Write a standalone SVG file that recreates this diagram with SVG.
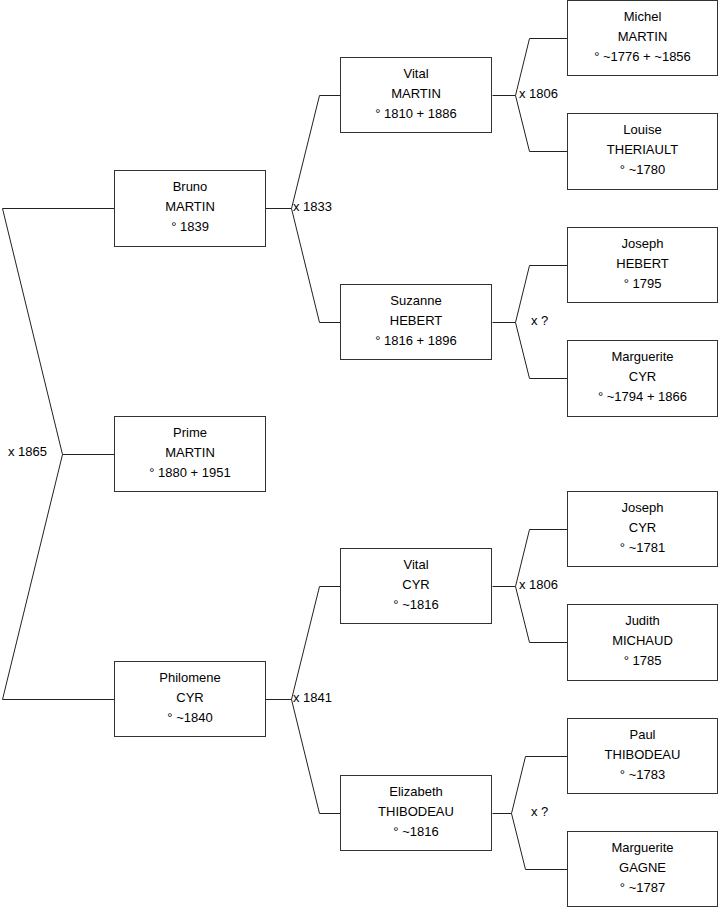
<svg xmlns="http://www.w3.org/2000/svg" width="719" height="908" viewBox="0 0 719 908">
<style>
rect.box{fill:#fff;stroke:#333;stroke-width:1}
text{font-family:"Liberation Sans",Arial,sans-serif;font-size:13px;fill:#000}
text.c{text-anchor:middle}
path.con{fill:none;stroke:#222;stroke-width:1}
</style>
<rect width="719" height="908" fill="#fff"/>
<g id="connectors" transform="translate(0.5,0.5)">
<path class="con" d="M114,454 H62 M2,208 L62,454 L2,699 M2,208 H114 M2,699 H114"/>
<path class="con" d="M265,208 H291 L319,95 H341 M291,208 L319,322 H341"/>
<path class="con" d="M492,95 H515 L529,38 H567 M515,95 L529,151 H567"/>
<path class="con" d="M492,322 H515 L529,265 H567 M515,322 L529,378 H567"/>
<path class="con" d="M265,699 H291 L319,586 H341 M291,699 L319,813 H341"/>
<path class="con" d="M492,586 H515 L529,529 H567 M515,586 L529,642 H567"/>
<path class="con" d="M492,813 H511 L525,756 H567 M511,813 L525,869 H567"/>
</g>
<g id="labels">
<text x="8" y="456">x 1865</text>
<text x="293" y="211">x 1833</text>
<text x="519" y="98">x 1806</text>
<text x="531" y="325">x ?</text>
<text x="293" y="702">x 1841</text>
<text x="519" y="589">x 1806</text>
<text x="531" y="816">x ?</text>
</g>
<g id="prime" transform="translate(114,416)"><rect class="box" x="0.5" y="0.5" width="151" height="75"/><text class="c" x="76" y="21">Prime</text><text class="c" x="76" y="41">MARTIN</text><text class="c" x="76" y="61">° 1880 + 1951</text></g>
<g id="bruno" transform="translate(114,170)"><rect class="box" x="0.5" y="0.5" width="151" height="76"/><text class="c" x="76" y="21">Bruno</text><text class="c" x="76" y="41">MARTIN</text><text class="c" x="76" y="61">° 1839</text></g>
<g id="philomene" transform="translate(114,661)"><rect class="box" x="0.5" y="0.5" width="151" height="75"/><text class="c" x="76" y="21">Philomene</text><text class="c" x="76" y="41">CYR</text><text class="c" x="76" y="61">° ~1840</text></g>
<g id="vital-martin" transform="translate(340,57)"><rect class="box" x="0.5" y="0.5" width="151" height="75"/><text class="c" x="76" y="21">Vital</text><text class="c" x="76" y="41">MARTIN</text><text class="c" x="76" y="61">° 1810 + 1886</text></g>
<g id="suzanne" transform="translate(340,284)"><rect class="box" x="0.5" y="0.5" width="151" height="75"/><text class="c" x="76" y="21">Suzanne</text><text class="c" x="76" y="41">HEBERT</text><text class="c" x="76" y="61">° 1816 + 1896</text></g>
<g id="vital-cyr" transform="translate(340,548)"><rect class="box" x="0.5" y="0.5" width="151" height="75"/><text class="c" x="76" y="21">Vital</text><text class="c" x="76" y="41">CYR</text><text class="c" x="76" y="61">° ~1816</text></g>
<g id="elizabeth" transform="translate(340,775)"><rect class="box" x="0.5" y="0.5" width="151" height="75"/><text class="c" x="76" y="21">Elizabeth</text><text class="c" x="76" y="41">THIBODEAU</text><text class="c" x="76" y="61">° ~1816</text></g>
<g id="michel" transform="translate(567,0)"><rect class="box" x="0.5" y="0.5" width="150" height="75"/><text class="c" x="75.5" y="21">Michel</text><text class="c" x="75.5" y="41">MARTIN</text><text class="c" x="75.5" y="61">° ~1776 + ~1856</text></g>
<g id="louise" transform="translate(567,113)"><rect class="box" x="0.5" y="0.5" width="150" height="76"/><text class="c" x="75.5" y="21">Louise</text><text class="c" x="75.5" y="41">THERIAULT</text><text class="c" x="75.5" y="61">° ~1780</text></g>
<g id="joseph-hebert" transform="translate(567,227)"><rect class="box" x="0.5" y="0.5" width="150" height="75"/><text class="c" x="75.5" y="21">Joseph</text><text class="c" x="75.5" y="41">HEBERT</text><text class="c" x="75.5" y="61">° 1795</text></g>
<g id="marguerite-cyr" transform="translate(567,340)"><rect class="box" x="0.5" y="0.5" width="150" height="76"/><text class="c" x="75.5" y="21">Marguerite</text><text class="c" x="75.5" y="41">CYR</text><text class="c" x="75.5" y="61">° ~1794 + 1866</text></g>
<g id="joseph-cyr" transform="translate(567,491)"><rect class="box" x="0.5" y="0.5" width="150" height="75"/><text class="c" x="75.5" y="21">Joseph</text><text class="c" x="75.5" y="41">CYR</text><text class="c" x="75.5" y="61">° ~1781</text></g>
<g id="judith" transform="translate(567,604)"><rect class="box" x="0.5" y="0.5" width="150" height="76"/><text class="c" x="75.5" y="21">Judith</text><text class="c" x="75.5" y="41">MICHAUD</text><text class="c" x="75.5" y="61">° 1785</text></g>
<g id="paul" transform="translate(567,718)"><rect class="box" x="0.5" y="0.5" width="150" height="75"/><text class="c" x="75.5" y="21">Paul</text><text class="c" x="75.5" y="41">THIBODEAU</text><text class="c" x="75.5" y="61">° ~1783</text></g>
<g id="marguerite-gagne" transform="translate(567,831)"><rect class="box" x="0.5" y="0.5" width="150" height="75"/><text class="c" x="75.5" y="21">Marguerite</text><text class="c" x="75.5" y="41">GAGNE</text><text class="c" x="75.5" y="61">° ~1787</text></g>
</svg>
